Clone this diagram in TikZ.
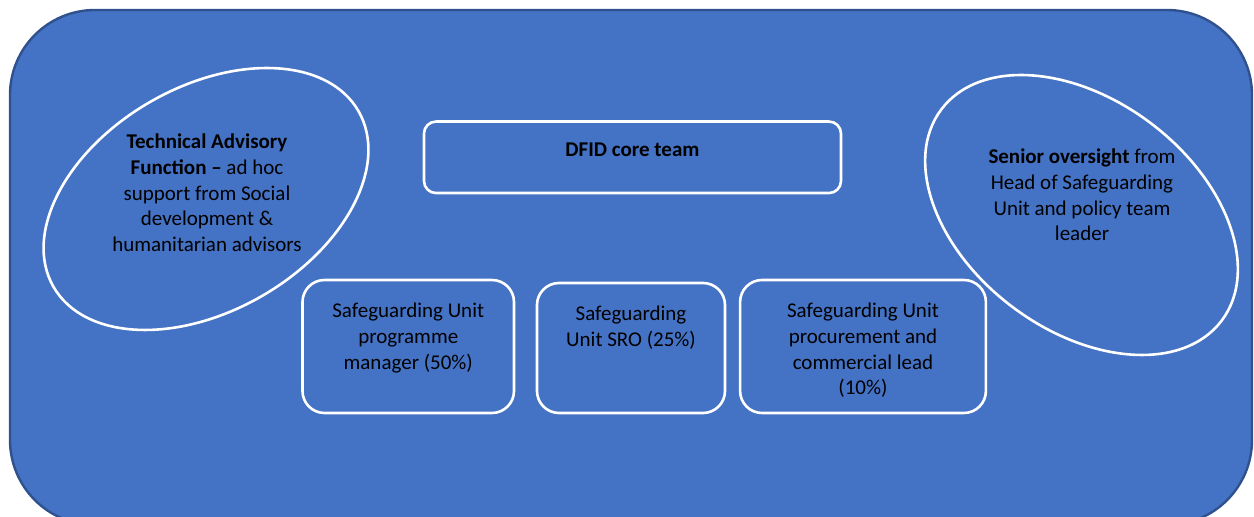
\documentclass[tikz,border=0pt]{standalone}
\usepackage{fontspec}
\setmainfont{Carlito}
\usetikzlibrary{positioning}
\definecolor{panelblue}{HTML}{4472C4}
\definecolor{paneledge}{HTML}{2F528F}
\begin{document}
\begin{tikzpicture}[x=0.5pt,y=-0.5pt,
  unitbox/.style={draw=white,line width=1.3pt,inner sep=0pt,rounded corners=11pt},
  ring/.style={draw=white,line width=1.3pt},
  boxtext/.style={align=center,inner sep=0pt,text=black,font=\fontsize{10.5}{12.85}\selectfont}]
\useasboundingbox (0,0) rectangle (1254,517);
\clip (0,0) rectangle (1254,517);
% background panel
\draw[fill=panelblue,draw=paneledge,line width=1.2pt,rounded corners=42.5pt] (10,10) rectangle (1252,525);
% core team
\node[unitbox,rounded corners=6pt,minimum width=208.5pt,minimum height=35.75pt] (core) at (632.5,157.3) {};
\node[boxtext] (coretext) at (632.5,150) {\textbf{DFID core team}};
% unit staff
\node[unitbox,minimum width=105.75pt,minimum height=66.5pt] (pmbox) at (408.25,346.5) {};
\node[unitbox,minimum width=94pt,minimum height=65pt] (srobox) at (631,348) {};
\node[unitbox,minimum width=122.9pt,minimum height=66.5pt] (procbox) at (863,346.5) {};
\node[boxtext,below=12pt of pmbox.north] (pmtext) {Safeguarding Unit\\programme\\manager (50\%)};
\node[boxtext,below=12pt of srobox.north] (srotext) {Safeguarding\\Unit SRO (25\%)};
\node[boxtext,below=12pt of procbox.north] (proctext) {Safeguarding Unit\\procurement and\\commercial lead\\(10\%)};
% advisory and oversight
\node[boxtext] (tech) at (207,193) {\textbf{Technical Advisory}\\\textbf{Function –} ad hoc\\support from Social\\development \&\\humanitarian advisors};
\node[boxtext] (senior) at (1082,195) {\textbf{Senior oversight} from\\Head of Safeguarding\\Unit and policy team\\leader};
\draw[ring,rotate around={30:(206,199)}] (206,199) ellipse [x radius=176,y radius=112];
\draw[ring,rotate around={-37:(1081.5,215)}] (1081.5,215) ellipse [x radius=175.5,y radius=115];
\end{tikzpicture}
\end{document}
